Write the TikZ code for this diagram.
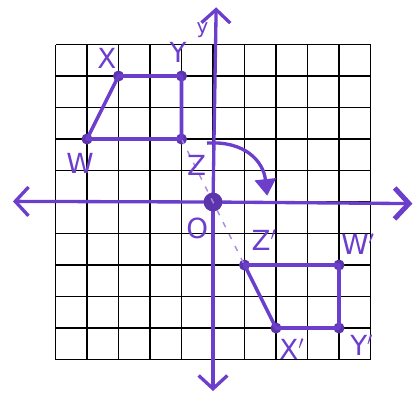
\documentclass[tikz,border=0pt]{standalone}
\usepackage{fontspec}
\setsansfont{DejaVu Sans}
\usetikzlibrary{arrows.meta}
\definecolor{ink}{RGB}{108,62,204}
\definecolor{inklight}{RGB}{170,140,225}
\tikzset{
  gridline/.style={draw=black, line width=1.4pt},
  axisline/.style={draw=ink, line width=3pt, line cap=round},
  quadline/.style={draw=ink, line width=3.2pt, line join=round},
  vdot/.style={circle, fill=ink!85!black, inner sep=0pt, minimum size=10pt},
  lbl/.style={text=ink, font=\fontsize{25}{25}\selectfont\sffamily, inner sep=0pt},
  barb/.style={-{Straight Barb[length=12pt,width=26pt,line width=3pt]}}
}
\begin{document}
\begin{tikzpicture}[x=1cm,y=1cm]
\useasboundingbox (-6.762,-6.222) rectangle (6.476,6.413);
% grid
\draw[gridline] (-5,-5) grid (5,5);
% axes
\coordinate (xl) at (-6.35,0.02);
\coordinate (xr) at (6.33,-0.05);
\coordinate (yt) at (0.1,6.18);
\coordinate (yb) at (0.0,-6.0);
\coordinate (o) at (0,0);
\draw[axisline, barb] (o) -- (xl);
\draw[axisline, -{Straight Barb[length=13pt,width=28pt,line width=4.5pt]}] (o) -- (xr);
\draw[axisline, barb] (o) -- (yt);
\draw[axisline, barb] (o) -- (yb);
% vertices
\node[vdot] (W) at (-4,2) {};
\node[vdot] (X) at (-3,4) {};
\node[vdot] (Y) at (-1,4) {};
\node[vdot] (Z) at (-1,2) {};
\node[vdot] (W1) at (4,-2) {};
\node[vdot] (X1) at (2,-4) {};
\node[vdot] (Y1) at (4,-4) {};
\node[vdot] (Z1) at (1,-2) {};
\node[circle, fill=ink!85!black, inner sep=0pt, minimum size=17pt] (O) at (o) {};
% dashed guide
\draw[draw=inklight, line width=1.3pt, dash pattern=on 5pt off 7pt] (Z.center) -- (Z1.center);
% quadrilaterals
\draw[quadline] (W.center) -- (X.center) -- (Y.center) -- (Z.center) -- cycle;
\draw[quadline] (Z1.center) -- (W1.center) -- (Y1.center) -- (X1.center) -- cycle;
% rotation arc
\coordinate (a0) at (-0.19,1.87);
\coordinate (a1) at (1.72,0.2);
\draw[draw=ink, line width=3pt, -{Triangle[length=15pt,width=19pt]}] (a0) .. controls (1.0,1.95) and (1.6,1.3) .. (a1);
% labels
\node[lbl] (lX) at (-3.37,4.57) {X};
\node[lbl] (lY) at (-1.11,4.76) {Y};
\node[lbl] (lW) at (-4.22,1.22) {W};
\node[lbl] (lZ) at (-0.52,1.17) {Z};
\node[lbl] (lO) at (-0.5,-0.85) {O};
\node[lbl] (lZ1) at (1.62,-1.2) {Z$'$};
\node[lbl] (lW1) at (4.6,-1.35) {W$'$};
\node[lbl] (lX1) at (2.5,-4.68) {X$'$};
\node[lbl] (lY1) at (4.72,-4.55) {Y$'$};
\node[lbl, font=\fontsize{18}{18}\selectfont\sffamily] (ly) at (-0.33,5.45) {y};
\end{tikzpicture}
\end{document}
